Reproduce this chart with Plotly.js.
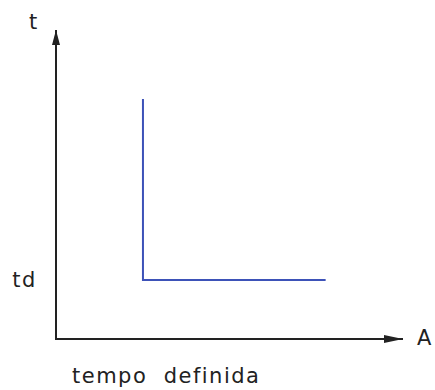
<!DOCTYPE html>
<html>
<head>
<meta charset="utf-8">
<script src="https://cdn.plot.ly/plotly-3.0.1.min.js"></script>
<style>
  html, body { margin: 0; padding: 0; background: #fff; }
  #chart { width: 435px; height: 390px; }
  .annotation-text, .ytick text { letter-spacing: 1.5px; }
</style>
</head>
<body>
<div id="chart"></div>
<script>
// Definite-time characteristic: current A vs time t
const A_values = [2, 2, 6.25];      // pickup current, then constant to the end
const t_values = [4.12, 1, 1];      // time falls to td and stays
const td_value = 1;
const tickValues = [td_value];
const tickLabels = ['td'];
const xAxisLabel = 'A';
const yAxisLabel = 't';
const caption = 'tempo\u00a0\u00a0definida';
const xMax = 8.05;
const yMax = 5.31;

const font = { family: 'DejaVu Sans, sans-serif', size: 21, color: '#222' };
const axisColor = '#222';

const data = [{
  type: 'scatter',
  mode: 'lines',
  x: A_values,
  y: t_values,
  line: { color: '#3d52b8', width: 2 },
  hoverinfo: 'skip',
  showlegend: false
}];

const layout = {
  width: 435,
  height: 390,
  margin: { l: 57, r: 32, t: 30, b: 52, pad: 0 },
  paper_bgcolor: '#fff',
  plot_bgcolor: '#fff',
  font: font,
  showlegend: false,
  xaxis: {
    range: [0, xMax],
    showgrid: false,
    zeroline: false,
    showline: true,
    linecolor: axisColor,
    linewidth: 2,
    ticks: '',
    showticklabels: false,
    fixedrange: true
  },
  yaxis: {
    range: [0, yMax],
    showgrid: false,
    zeroline: false,
    showline: true,
    linecolor: axisColor,
    linewidth: 2,
    ticks: '',
    tickvals: tickValues,
    ticktext: tickLabels,
    tickfont: font,
    ticklabelstandoff: 14,
    fixedrange: true
  },
  shapes: [
    { // arrowhead on y axis
      type: 'path', xref: 'paper', yref: 'paper',
      xsizemode: 'pixel', ysizemode: 'pixel',
      xanchor: 0, yanchor: 1,
      path: 'M-1,0 L-5,-15 L3,-15 Z',
      fillcolor: axisColor, line: { width: 0 }
    },
    { // arrowhead on x axis
      type: 'path', xref: 'paper', yref: 'paper',
      xsizemode: 'pixel', ysizemode: 'pixel',
      xanchor: 1, yanchor: 0,
      path: 'M0,-1 L-19,3 L-19,-5 Z',
      fillcolor: axisColor, line: { width: 0 }
    }
  ],
  annotations: [
    { text: yAxisLabel, xref: 'paper', yref: 'paper', x: -0.066, y: 1.026,
      xanchor: 'center', yanchor: 'middle', showarrow: false, font: font },
    { text: xAxisLabel, xref: 'paper', yref: 'paper', x: 1.063, y: 0.0,
      xanchor: 'center', yanchor: 'middle', showarrow: false, font: font },
    { text: caption, xref: 'paper', yref: 'paper', x: 0.0376, y: -0.123,
      xanchor: 'left', yanchor: 'middle', showarrow: false, font: font }
  ]
};

Plotly.newPlot('chart', data, layout, { staticPlot: true, displayModeBar: false });
</script>
</body>
</html>
